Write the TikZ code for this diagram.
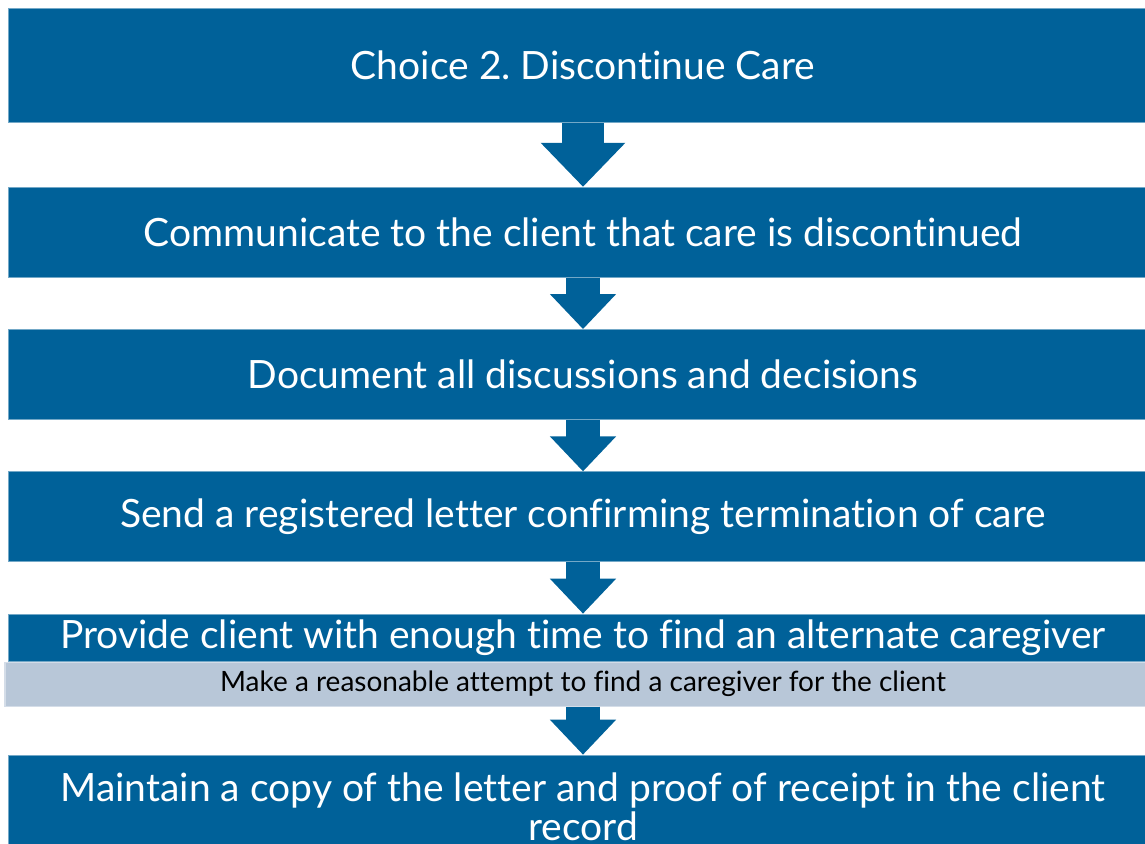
\documentclass[tikz,border=0pt]{standalone}
\usepackage{fontspec}
\setmainfont{Lato}[Ligatures=NoCommon]
\usetikzlibrary{arrows.meta, positioning}

\definecolor{boxblue}{HTML}{006199}
\definecolor{subgrey}{HTML}{B8C7D8}

\begin{document}
\begin{tikzpicture}[
        x=1pt, y=-1pt,
        node distance=51.5pt,
        flowbox/.style={rectangle, fill=boxblue, draw=boxblue!55!white, line width=0.8pt,
            text=white, minimum width=1150pt, inner sep=0pt, align=center,
            font=\fontsize{39}{39}\selectfont},
        subbox/.style={rectangle, fill=subgrey, draw=subgrey!60!white, line width=1.2pt,
            text=black, minimum width=1156pt, minimum height=44pt, inner sep=0pt,
            font=\fontsize{28}{30}\selectfont},
        flowarrow/.style={boxblue, line width=34pt, -{Triangle[length=35pt, width=64pt]}},
        bigarrow/.style={boxblue, line width=42pt, -{Triangle[length=44pt, width=82pt]}}
    ]

    \useasboundingbox (0,0) rectangle (1145,843);
    \clip (0,0) rectangle (1145,843);

    \node[flowbox, minimum height=114pt, anchor=north] (choice) at (583,8) {Choice 2.\ Discontinue Care};
    \node[flowbox, minimum height=90pt, below=64pt of choice] (communicate) {Communicate to the client that care is discontinued};
    \node[flowbox, minimum height=90pt, below=of communicate] (document) {Document all discussions and decisions};
    \node[flowbox, minimum height=90pt, below=of document] (letter) {Send a registered letter confirming termination of care};
    \node[flowbox, minimum height=47pt, below=of letter] (provide) {Provide client with enough time to find an alternate caregiver};
    \node[subbox, below=0pt of provide] (attempt) {Make a reasonable attempt to find a caregiver for the client};
    \node[flowbox, minimum height=94pt, below=48pt of attempt] (maintain) {\rule{0pt}{39pt}Maintain a copy of the letter and proof of receipt in the client\\record};

    \draw[bigarrow] (choice) -- (communicate);
    \draw[flowarrow] (communicate) -- (document);
    \draw[flowarrow] (document) -- (letter);
    \draw[flowarrow] (letter) -- (provide);
    \draw[flowarrow] (attempt) -- (maintain);
\end{tikzpicture}
\end{document}
